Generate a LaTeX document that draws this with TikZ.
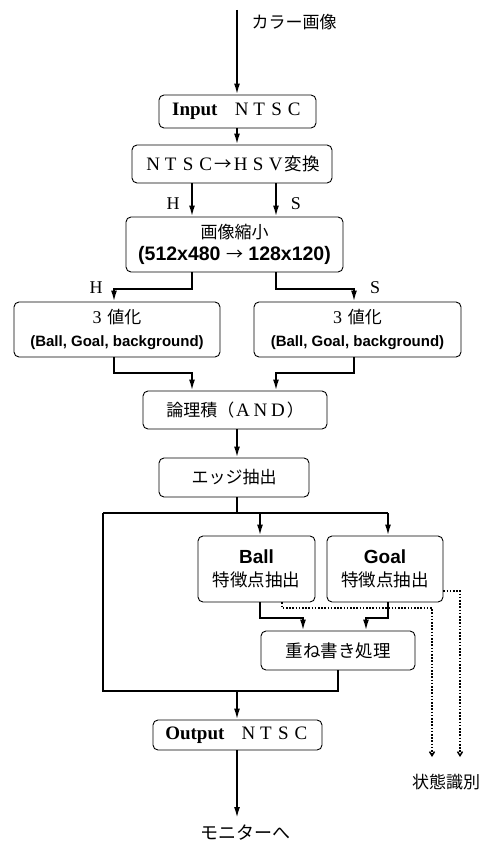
\documentclass[tikz,border=0pt]{standalone}
\usepackage{fontspec}
\setmainfont{Liberation Serif}
\newfontfamily\jp{Noto Sans CJK JP}
\newfontfamily\ars{Liberation Sans}
\usetikzlibrary{arrows.meta}
\newcommand{\fwl}[1]{\makebox[17.5pt]{\fontsize{19}{22}\selectfont #1}}
\begin{document}
\begin{tikzpicture}[x=1pt,y=-1pt,
  box/.style={draw,line width=0.9pt,rounded corners=5pt,inner sep=0pt,align=center,font=\fontsize{17}{22.5}\selectfont},
  jtxt/.style={font=\fontsize{17}{22}\selectfont\jp},
  lbl/.style={font=\fontsize{18}{20}\selectfont},
  arr/.style={line width=1.8pt,-{Latex[length=11pt,width=6pt]}},
  ln/.style={line width=1.8pt},
  dot/.style={line width=1.5pt,dash pattern=on 1.6pt off 1.6pt,-{Straight Barb[length=4pt,width=5pt]}}]
\useasboundingbox (0,0) rectangle (488,845);
% nodes
\node[box,minimum width=157pt,minimum height=33pt] (in) at (237.5,111.5)
  {{\fontsize{19}{21}\selectfont\bfseries Input}\hspace{0.9em}\fwl{N}\fwl{T}\fwl{S}\fwl{C}};
\node[box,minimum width=200pt,minimum height=38pt] (hsv) at (232,164)
  {\fwl{N}\fwl{T}\fwl{S}\fwl{C}{\fontsize{17.5}{21}\selectfont\jp →}\fwl{H}\fwl{S}\fwl{V}{\fontsize{17.5}{21}\selectfont\jp 変換}};
\node[box,minimum width=217pt,minimum height=55pt] (red) at (234.5,244.5)
  {{\jp 画像縮小}\\{\fontsize{19.5}{22}\selectfont\ars\bfseries (512x480 {\mdseries\jp\fontsize{17}{22}\selectfont →} 128x120)}};
\node[box,minimum width=206pt,minimum height=55pt] (tl) at (117,329.5)
  {{\fontsize{18}{20}\selectfont 3}\hspace{0.35em}{\jp 値化}\\{\fontsize{15}{18}\selectfont\ars\bfseries (Ball, Goal, background)}};
\node[box,minimum width=207pt,minimum height=55pt] (tr) at (357.5,329.5)
  {{\fontsize{18}{20}\selectfont 3}\hspace{0.35em}{\jp 値化}\\{\fontsize{15}{18}\selectfont\ars\bfseries (Ball, Goal, background)}};
\node[box,minimum width=184pt,minimum height=38pt] (and) at (235,410)
  {{\jp 論理積（}\fwl{A}\fwl{N}\fwl{D}{\jp ）}};
\node[box,jtxt,minimum width=150pt,minimum height=39pt] (edge) at (234,477.5) {エッジ抽出};
\node[box,minimum width=117pt,minimum height=66pt] (ball) at (256.5,569)
  {{\fontsize{19}{22}\selectfont\ars\bfseries Ball}\\{\fontsize{17.5}{21}\selectfont\jp 特徴点抽出}};
\node[box,minimum width=116pt,minimum height=66pt] (goal) at (385,569)
  {{\fontsize{19}{22}\selectfont\ars\bfseries Goal}\\{\fontsize{17.5}{21}\selectfont\jp 特徴点抽出}};
\node[box,font=\fontsize{17.5}{21}\selectfont\jp,minimum width=154pt,minimum height=39pt] (over) at (338,650.5) {重ね書き処理};
\node[box,minimum width=169pt,minimum height=30pt] (out) at (237.5,735)
  {{\fontsize{19}{21}\selectfont\bfseries Output}\hspace{0.9em}\fwl{N}\fwl{T}\fwl{S}\fwl{C}};
% free labels
\node[jtxt,anchor=west] (src) at (248,22) {カラー画像};
\node[font=\fontsize{18}{21}\selectfont\jp] (mon) at (245,833) {モニターへ};
\node[jtxt] (state) at (446,782) {状態識別};
\node[lbl] (h1) at (173,204) {H};
\node[lbl] (s1) at (296,204) {S};
\node[lbl] (h2) at (96,288) {H};
\node[lbl] (s2) at (375,288) {S};
% coordinates
\coordinate (top) at (237,10);
\coordinate (xH) at (192,0);
\coordinate (xS) at (276,0);
\coordinate (xL) at (114,0);
\coordinate (xR) at (354,0);
\coordinate (y1) at (0,289);
\coordinate (y2) at (0,373);
\coordinate (xM) at (237,0);
\coordinate (ysplit) at (0,513);
\coordinate (xLeft) at (103,0);
\coordinate (xB) at (260,0);
\coordinate (xG) at (388,0);
\coordinate (y3) at (0,618);
\coordinate (xO1) at (303,0);
\coordinate (xO2) at (366,0);
\coordinate (yj) at (0,691);
\coordinate (xOv) at (338,0);
\coordinate (monTop) at (237,818);
\coordinate (d1s) at (282,602);
\coordinate (d1a) at (432,608);
\coordinate (d1e) at (432,757);
\coordinate (d2a) at (460,591);
\coordinate (d2e) at (460,757);
% connectors
\draw[arr] (top) -- (top |- in.north);
\draw[arr] (in.south -| xM) -- (hsv.north -| xM);
\draw[arr] (hsv.south -| xH) -- (red.north -| xH);
\draw[arr] (hsv.south -| xS) -- (red.north -| xS);
\draw[arr] (red.south -| xH) -- (xH |- y1) -- (xL |- y1) -- (tl.north -| xL);
\draw[arr] (red.south -| xS) -- (xS |- y1) -- (xR |- y1) -- (tr.north -| xR);
\draw[arr] (tl.south -| xL) -- (xL |- y2) -- (xH |- y2) -- (and.north -| xH);
\draw[arr] (tr.south -| xR) -- (xR |- y2) -- (xS |- y2) -- (and.north -| xS);
\draw[arr] (and.south -| xM) -- (edge.north -| xM);
\draw[ln] (edge.south -| xM) -- (xM |- ysplit);
\draw[ln] (xLeft |- ysplit) -- (xG |- ysplit);
\draw[arr] (xB |- ysplit) -- (ball.north -| xB);
\draw[arr] (xG |- ysplit) -- (goal.north -| xG);
\draw[arr] (ball.south -| xB) -- (xB |- y3) -- (xO1 |- y3) -- (over.north -| xO1);
\draw[arr] (goal.south -| xG) -- (xG |- y3) -- (xO2 |- y3) -- (over.north -| xO2);
\draw[ln,line join=miter] (over.south -| xOv) -- (xOv |- yj) -- (xLeft |- yj) -- (xLeft |- ysplit);
\draw[arr] (xM |- yj) -- (out.north -| xM);
\draw[arr] (out.south -| xM) -- (monTop);
\draw[dot] (d1s |- ball.south) -- (d1s |- d1a) -- (d1a) -- (d1e);
\draw[dot] (goal.east |- d2a) -- (d2a) -- (d2e);
\end{tikzpicture}
\end{document}
